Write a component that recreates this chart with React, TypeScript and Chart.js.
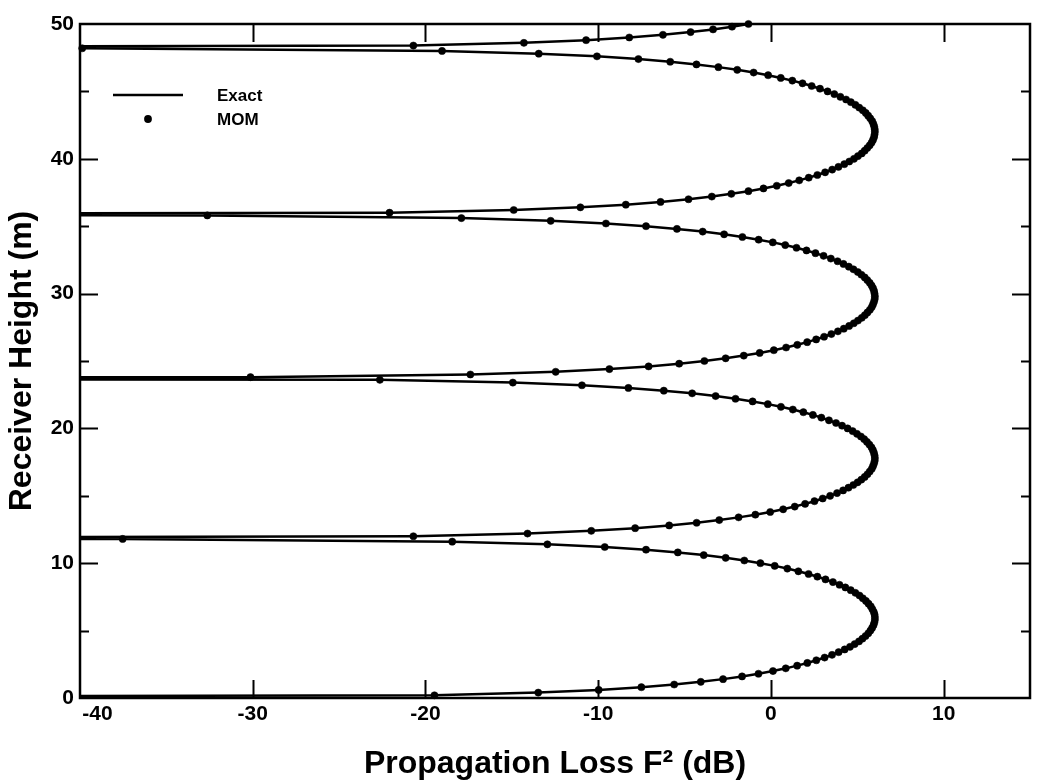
import React, { useEffect, useRef } from 'react';
import { Chart, registerables } from 'chart.js';

Chart.register(...registerables);

// ---------- data ----------
const seriesLabels = ['Exact', 'MOM'];
const xTickValues = [-40, -30, -20, -10, 0, 10];
const yMajorTicks = [0, 10, 20, 30, 40, 50];
const yMinorTicks = [5, 15, 25, 35, 45];

// receiver heights (m) of the MOM samples
const momHeights = [
  0.2, 0.4, 0.6, 0.8, 1.0, 1.2, 1.4, 1.6, 1.8, 2.0,
  2.2, 2.4, 2.6, 2.8, 3.0, 3.2, 3.4, 3.6, 3.8, 4.0,
  4.2, 4.4, 4.6, 4.8, 5.0, 5.2, 5.4, 5.6, 5.8, 6.0,
  6.2, 6.4, 6.6, 6.8, 7.0, 7.2, 7.4, 7.6, 7.8, 8.0,
  8.2, 8.4, 8.6, 8.8, 9.0, 9.2, 9.4, 9.6, 9.8, 10.0,
  10.2, 10.4, 10.6, 10.8, 11.0, 11.2, 11.4, 11.6, 11.8, 12.0,
  12.2, 12.4, 12.6, 12.8, 13.0, 13.2, 13.4, 13.6, 13.8, 14.0,
  14.2, 14.4, 14.6, 14.8, 15.0, 15.2, 15.4, 15.6, 15.8, 16.0,
  16.2, 16.4, 16.6, 16.8, 17.0, 17.2, 17.4, 17.6, 17.8, 18.0,
  18.2, 18.4, 18.6, 18.8, 19.0, 19.2, 19.4, 19.6, 19.8, 20.0,
  20.2, 20.4, 20.6, 20.8, 21.0, 21.2, 21.4, 21.6, 21.8, 22.0,
  22.2, 22.4, 22.6, 22.8, 23.0, 23.2, 23.4, 23.6, 23.8, 24.0,
  24.2, 24.4, 24.6, 24.8, 25.0, 25.2, 25.4, 25.6, 25.8, 26.0,
  26.2, 26.4, 26.6, 26.8, 27.0, 27.2, 27.4, 27.6, 27.8, 28.0,
  28.2, 28.4, 28.6, 28.8, 29.0, 29.2, 29.4, 29.6, 29.8, 30.0,
  30.2, 30.4, 30.6, 30.8, 31.0, 31.2, 31.4, 31.6, 31.8, 32.0,
  32.2, 32.4, 32.6, 32.8, 33.0, 33.2, 33.4, 33.6, 33.8, 34.0,
  34.2, 34.4, 34.6, 34.8, 35.0, 35.2, 35.4, 35.6, 35.8, 36.0,
  36.2, 36.4, 36.6, 36.8, 37.0, 37.2, 37.4, 37.6, 37.8, 38.0,
  38.2, 38.4, 38.6, 38.8, 39.0, 39.2, 39.4, 39.6, 39.8, 40.0,
  40.2, 40.4, 40.6, 40.8, 41.0, 41.2, 41.4, 41.6, 41.8, 42.0,
  42.2, 42.4, 42.6, 42.8, 43.0, 43.2, 43.4, 43.6, 43.8, 44.0,
  44.2, 44.4, 44.6, 44.8, 45.0, 45.2, 45.4, 45.6, 45.8, 46.0,
  46.2, 46.4, 46.6, 46.8, 47.0, 47.2, 47.4, 47.6, 47.8, 48.0,
  48.2, 48.4, 48.6, 48.8, 49.0, 49.2, 49.4, 49.6, 49.8, 50.0,
];

// propagation loss F^2 (dB) per lobe
const lossLobe1 = [
  -19.48, -13.47, -9.97, -7.5, -5.6, -4.06, -2.77, -1.67, -0.72, 0.12,
  0.86, 1.52, 2.11, 2.63, 3.11, 3.54, 3.92, 4.27, 4.58, 4.85,
  5.1, 5.3, 5.48, 5.64, 5.76, 5.86, 5.94, 5.99, 6.02, 6.02,
  6.0, 5.95, 5.87, 5.78, 5.65, 5.5, 5.32, 5.13, 4.89, 4.62,
  4.31, 3.97, 3.59, 3.16, 2.69, 2.18, 1.59, 0.95, 0.22, -0.61,
  -1.54, -2.62, -3.89, -5.39, -7.23, -9.62, -12.94, -18.45, -37.53,
];
const lossLobe2 = [
  -20.7, -14.09, -10.4, -7.86, -5.89, -4.3, -2.99, -1.87, -0.9, -0.04,
  0.71, 1.38, 1.98, 2.52, 3.0, 3.43, 3.83, 4.18, 4.49, 4.77,
  5.02, 5.24, 5.43, 5.59, 5.72, 5.84, 5.91, 5.97, 6.01, 6.02,
  6.0, 5.96, 5.9, 5.82, 5.7, 5.56, 5.4, 5.21, 4.98, 4.73,
  4.44, 4.12, 3.77, 3.36, 2.92, 2.43, 1.88, 1.27, 0.58, -0.18,
  -1.06, -2.05, -3.2, -4.56, -6.2, -8.25, -10.94, -14.94, -22.64,
];
const lossLobe3 = [
  -30.13, -17.4, -12.46, -9.35, -7.08, -5.31, -3.85, -2.62, -1.57, -0.65,
  0.17, 0.88, 1.53, 2.1, 2.62, 3.08, 3.5, 3.88, 4.22, 4.53,
  4.8, 5.04, 5.26, 5.44, 5.59, 5.73, 5.84, 5.91, 5.97, 6.01,
  6.02, 6.0, 5.97, 5.91, 5.83, 5.72, 5.58, 5.43, 5.24, 5.03,
  4.78, 4.51, 4.2, 3.86, 3.47, 3.05, 2.58, 2.06, 1.48, 0.83,
  0.11, -0.71, -1.65, -2.71, -3.95, -5.44, -7.23, -9.55, -12.75, -17.92,
  -32.63,
];
const lossLobe4 = [
  -22.08, -14.89, -11.03, -8.4, -6.39, -4.77, -3.42, -2.29, -1.3, -0.43,
  0.34, 1.03, 1.64, 2.19, 2.69, 3.14, 3.55, 3.91, 4.25, 4.54,
  4.81, 5.04, 5.26, 5.43, 5.58, 5.72, 5.83, 5.91, 5.97, 6.0,
  6.02, 6.01, 5.98, 5.93, 5.86, 5.75, 5.63, 5.49, 5.32, 5.11,
  4.89, 4.63, 4.35, 4.02, 3.67, 3.28, 2.84, 2.36, 1.83, 1.24,
  0.57, -0.16, -1.0, -1.95, -3.04, -4.31, -5.83, -7.67, -10.07, -13.44,
  -19.04, -39.87,
];
const lossLobe5 = [-20.7, -14.3, -10.7, -8.2, -6.25, -4.65, -3.35, -2.25, -1.3];

// nulls of the exact curve (heights in m, loss in dB far below the axis)
const nullHeights = [0, 11.825, 23.74, 35.845, 48.22];
const nullLoss = [-90, -90, -90, -90, -90];

const FONT = "'Liberation Sans', Arial, Helvetica, sans-serif";

const momLoss = [...lossLobe1, ...lossLobe2, ...lossLobe3, ...lossLobe4, ...lossLobe5];
const momData = momHeights.map((h, i) => ({ x: momLoss[i], y: h }));
const exactData = [
  ...momData,
  ...nullHeights.map((h, i) => ({ x: nullLoss[i], y: h })),
].sort((a, b) => a.y - b.y);

const framePlugin = {
  id: 'frameTicks',
  afterDatasetsDraw(chart: any) {
    const { ctx, chartArea, scales } = chart;
    const { left, right, top, bottom } = chartArea;
    const xs = scales.x;
    const ys = scales.y;
    ctx.save();
    ctx.strokeStyle = '#000';
    ctx.lineWidth = 2;
    ctx.lineCap = 'butt';
    ctx.beginPath();
    const major = 18;
    const minor = 9;
    xTickValues.forEach((v) => {
      const px = Math.round(xs.getPixelForValue(v)) + 0.5;
      if (px <= left + 2 || px >= right - 2) return;
      ctx.moveTo(px, bottom);
      ctx.lineTo(px, bottom - major);
      ctx.moveTo(px, top);
      ctx.lineTo(px, top + major);
    });
    yMajorTicks.forEach((v) => {
      const py = Math.round(ys.getPixelForValue(v)) + 0.5;
      if (py <= top + 2 || py >= bottom - 2) return;
      ctx.moveTo(left, py);
      ctx.lineTo(left + major, py);
      ctx.moveTo(right, py);
      ctx.lineTo(right - major, py);
    });
    yMinorTicks.forEach((v) => {
      const py = Math.round(ys.getPixelForValue(v)) + 0.5;
      ctx.moveTo(left, py);
      ctx.lineTo(left + minor, py);
      ctx.moveTo(right, py);
      ctx.lineTo(right - minor, py);
    });
    ctx.stroke();
    ctx.lineWidth = 2.5;
    ctx.strokeRect(left, top, right - left, bottom - top);

    // legend
    const ds = chart.data.datasets;
    const lx0 = left + 33;
    const lx1 = left + 103;
    const row1 = top + 71;
    const row2 = top + 95;
    ctx.strokeStyle = '#000';
    ctx.lineWidth = ds[0].borderWidth;
    ctx.beginPath();
    ctx.moveTo(lx0, row1);
    ctx.lineTo(lx1, row1);
    ctx.stroke();
    ctx.fillStyle = '#000';
    ctx.beginPath();
    ctx.arc((lx0 + lx1) / 2, row2, ds[1].pointRadius + 0.3, 0, Math.PI * 2);
    ctx.fill();
    ctx.font = `bold 17px ${FONT}`;
    ctx.textAlign = 'left';
    ctx.textBaseline = 'middle';
    ctx.fillText(ds[0].label, left + 137, row1 + 1);
    ctx.fillText(ds[1].label, left + 137, row2 + 1);
    ctx.restore();
  },
};

export default function App() {
  const ref = useRef<HTMLCanvasElement | null>(null);

  useEffect(() => {
    if (!ref.current) return;
    const chart = new Chart(ref.current, {
      type: 'scatter',
      data: {
        datasets: [
          {
            label: seriesLabels[0],
            data: exactData,
            showLine: true,
            borderColor: '#000',
            backgroundColor: '#000',
            borderWidth: 2.5,
            pointRadius: 0,
            pointHoverRadius: 0,
          },
          {
            label: seriesLabels[1],
            data: momData,
            showLine: false,
            borderColor: '#000',
            backgroundColor: '#000',
            borderWidth: 0.5,
            pointRadius: 3.6,
            pointHoverRadius: 3.6,
            clip: 8,
          },
        ],
      } as any,
      options: {
        animation: false,
        responsive: false,
        events: [],
        layout: { padding: { top: 24, right: 7, left: 0, bottom: 0 } },
        plugins: {
          legend: { display: false },
          tooltip: { enabled: false },
        },
        scales: {
          x: {
            type: 'linear',
            position: 'bottom',
            min: -40,
            max: 15,
            afterBuildTicks: (s: any) => {
              s.ticks = xTickValues.map((v) => ({ value: v }));
            },
            afterFit: (s: any) => {
              s.height = 85;
            },
            grid: { display: false, drawTicks: false },
            border: { display: false },
            ticks: {
              color: '#000',
              font: { family: FONT, size: 21, weight: 'bold' },
              padding: 4,
              maxRotation: 0,
              autoSkip: false,
              callback: (v: any) => (v === -40 ? '      -40' : String(v)),
            },
            title: {
              display: true,
              text: 'Propagation Loss F² (dB)',
              color: '#000',
              font: { family: FONT, size: 32, weight: 'bold' },
              padding: { top: 0, bottom: 0 },
            },
          },
          y: {
            type: 'linear',
            min: 0,
            max: 50,
            afterBuildTicks: (s: any) => {
              s.ticks = yMajorTicks.map((v) => ({ value: v }));
            },
            afterFit: (s: any) => {
              s.width = 80;
            },
            grid: { display: false, drawTicks: false },
            border: { display: false },
            ticks: {
              color: '#000',
              font: { family: FONT, size: 21, weight: 'bold' },
              padding: 6,
              autoSkip: false,
            },
            title: {
              display: true,
              text: 'Receiver Height (m)',
              color: '#000',
              font: { family: FONT, size: 32, weight: 'bold' },
              padding: { top: 3, bottom: 0 },
            },
          },
        },
      } as any,
      plugins: [framePlugin],
    });
    return () => chart.destroy();
  }, []);

  return (
    <div style={{ position: 'absolute', left: 0, top: 0, width: 1037, height: 783, background: '#fff' }}>
      <canvas ref={ref} width={1037} height={783} style={{ display: 'block', width: 1037, height: 783 }} />
    </div>
  );
}
